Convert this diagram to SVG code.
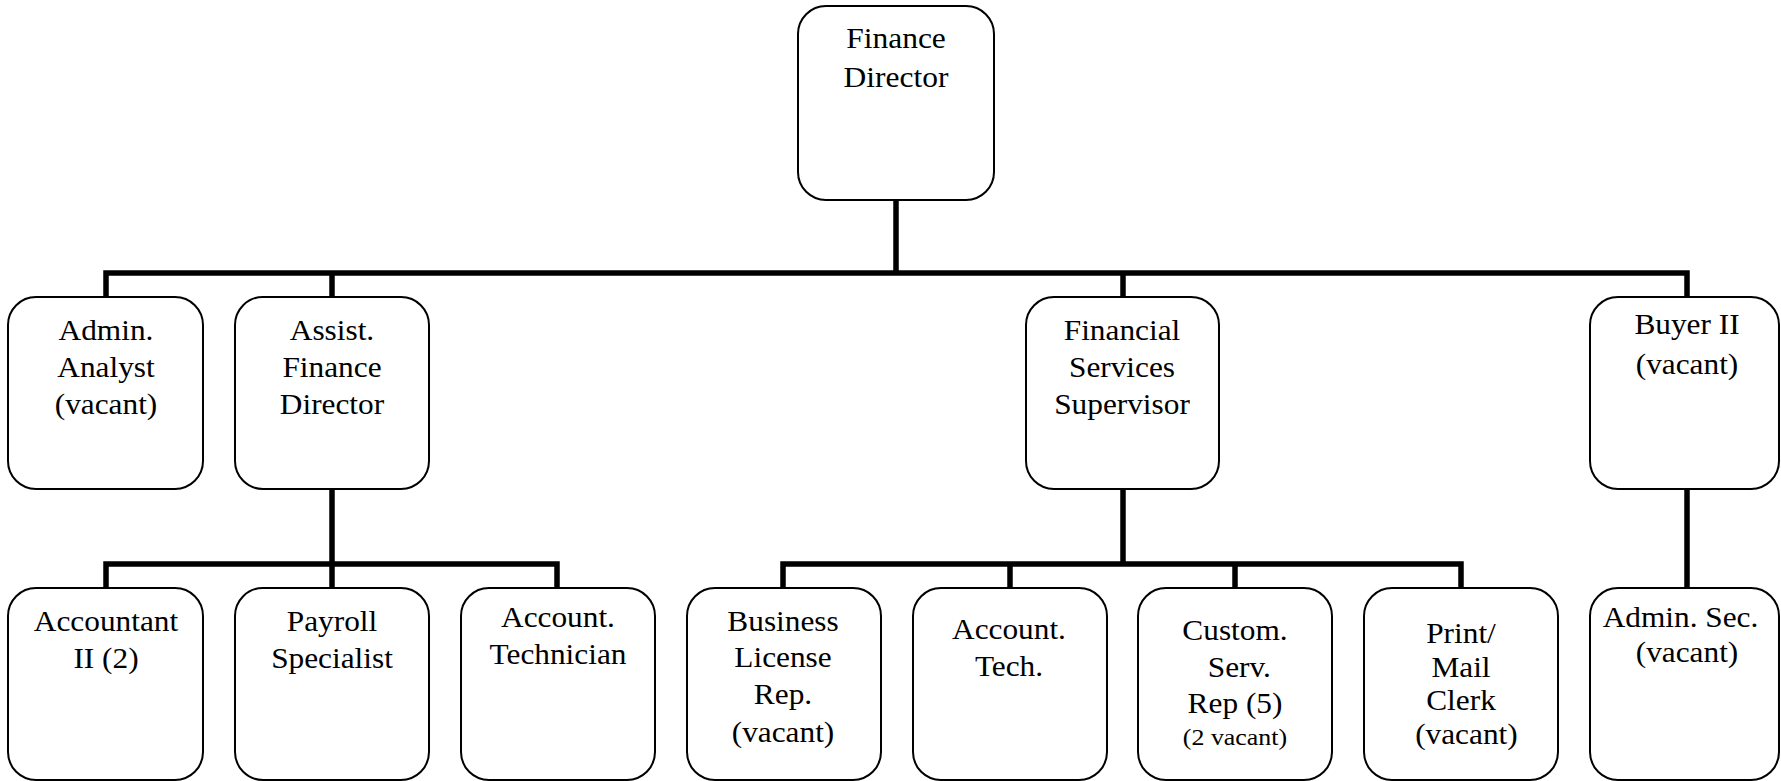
<svg xmlns="http://www.w3.org/2000/svg" width="1781" height="781" viewBox="0 0 1781 781">
<style>
.box{fill:#fff;stroke:#000;stroke-width:2}
.t{font-family:"Liberation Serif","Times New Roman",serif;font-size:29px;text-anchor:middle;fill:#000}
.s{font-size:24px}
.big{font-size:30px}
.c{fill:none;stroke:#000;stroke-width:5.5;stroke-linejoin:miter}
</style>
<rect width="1781" height="781" fill="#fff"/>
<g id="connectors" class="c">
<path d="M106,297 V273 H1687 V297"/>
<path d="M896,200 V273"/>
<path d="M332,273 V297"/>
<path d="M1123,273 V297"/>
<path d="M106,588 V564 H557 V588"/>
<path d="M332,489 V588"/>
<path d="M783,588 V564 H1461 V588"/>
<path d="M1123,489 V564"/>
<path d="M1010,564 V588"/>
<path d="M1235,564 V588"/>
<path d="M1687,489 V588"/>
</g>
<g id="finance-director">
<rect class="box" x="798" y="6" width="196" height="194" rx="28"/>
<g transform="translate(896 0) scale(1.05 1)"><text class="t big" x="0" y="48">Finance</text><text class="t big" x="0" y="87">Director</text></g>
</g>
<g id="admin-analyst">
<rect class="box" x="8" y="297" width="195" height="192" rx="28"/>
<g transform="translate(106 0) scale(1.08 1)"><text class="t" x="0" y="340">Admin.</text><text class="t" x="0" y="377">Analyst</text><text class="t" x="0" y="414">(vacant)</text></g>
</g>
<g id="assist-finance-director">
<rect class="box" x="235" y="297" width="194" height="192" rx="28"/>
<g transform="translate(332 0) scale(1.08 1)"><text class="t" x="0" y="340">Assist.</text><text class="t" x="0" y="377">Finance</text><text class="t" x="0" y="414">Director</text></g>
</g>
<g id="financial-services-supervisor">
<rect class="box" x="1026" y="297" width="193" height="192" rx="28"/>
<g transform="translate(1122 0) scale(1.08 1)"><text class="t" x="0" y="340">Financial</text><text class="t" x="0" y="377">Services</text><text class="t" x="0" y="414">Supervisor</text></g>
</g>
<g id="buyer-ii">
<rect class="box" x="1590" y="297" width="189" height="192" rx="28"/>
<g transform="translate(1687 0) scale(1.08 1)"><text class="t" x="0" y="334">Buyer II</text><text class="t" x="0" y="374">(vacant)</text></g>
</g>
<g id="accountant-ii">
<rect class="box" x="8" y="588" width="195" height="192" rx="28"/>
<g transform="translate(106 0) scale(1.08 1)"><text class="t" x="0" y="631">Accountant</text><text class="t" x="0" y="668">II (2)</text></g>
</g>
<g id="payroll-specialist">
<rect class="box" x="235" y="588" width="194" height="192" rx="28"/>
<g transform="translate(332 0) scale(1.08 1)"><text class="t" x="0" y="631">Payroll</text><text class="t" x="0" y="668">Specialist</text></g>
</g>
<g id="account-technician">
<rect class="box" x="461" y="588" width="194" height="192" rx="28"/>
<g transform="translate(558 0) scale(1.08 1)"><text class="t" x="0" y="627">Account.</text><text class="t" x="0" y="664">Technician</text></g>
</g>
<g id="business-license-rep">
<rect class="box" x="687" y="588" width="194" height="192" rx="28"/>
<g transform="translate(783 0) scale(1.08 1)"><text class="t" x="0" y="631">Business</text><text class="t" x="0" y="667">License</text><text class="t" x="0" y="704">Rep.</text><text class="t" x="0" y="742">(vacant)</text></g>
</g>
<g id="account-tech">
<rect class="box" x="913" y="588" width="194" height="192" rx="28"/>
<g transform="translate(1009 0) scale(1.08 1)"><text class="t" x="0" y="639">Account.</text><text class="t" x="0" y="676">Tech.</text></g>
</g>
<g id="custom-serv-rep">
<rect class="box" x="1138" y="588" width="194" height="192" rx="28"/>
<g transform="translate(1235 0) scale(1.08 1)"><text class="t" x="0" y="640">Custom.</text><text class="t" x="4" y="677">Serv.</text><text class="t" x="0" y="713">Rep (5)</text><text class="t s" x="0" y="745">(2 vacant)</text></g>
</g>
<g id="print-mail-clerk">
<rect class="box" x="1364" y="588" width="194" height="192" rx="28"/>
<g transform="translate(1461 0) scale(1.08 1)"><text class="t" x="0" y="643">Print/</text><text class="t" x="0" y="677">Mail</text><text class="t" x="0" y="710">Clerk</text><text class="t" x="5" y="744">(vacant)</text></g>
</g>
<g id="admin-sec">
<rect class="box" x="1590" y="588" width="189" height="192" rx="28"/>
<g transform="translate(1687 0) scale(1.08 1)"><text class="t" x="-6" y="627">Admin. Sec.</text><text class="t" x="0" y="662">(vacant)</text></g>
</g>
</svg>
